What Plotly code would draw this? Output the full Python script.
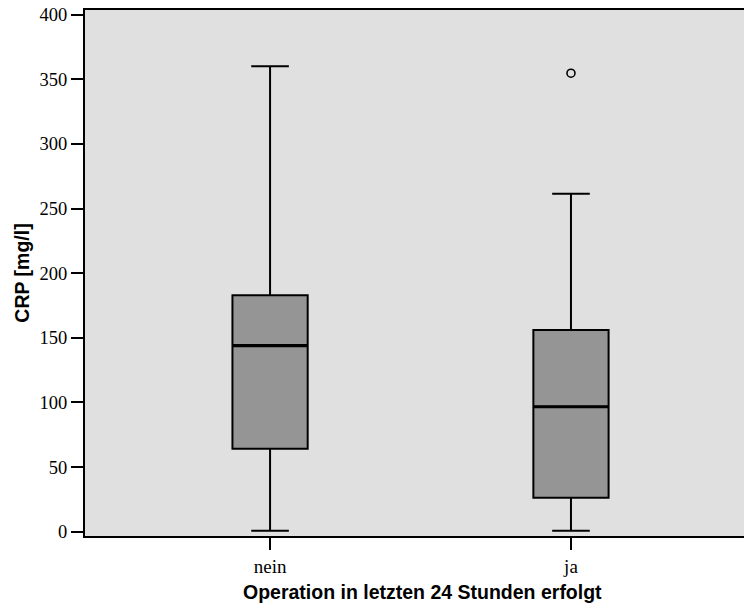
import plotly.graph_objects as go

categories = ["nein", "ja"]
positions = [0, 1]
q1 = [64.2, 26.3]
median = [143.9, 96.7]
q3 = [182.9, 156.1]
lower_fence = [0.8, 0.8]
upper_fence = [360.1, 261.5]
outlier_cat = [1]
outlier_val = [354.7]

yticks = [0, 50, 100, 150, 200, 250, 300, 350, 400]

BOX_W = 0.25
fig = go.Figure()
for i, c in enumerate(categories):
    fig.add_trace(go.Box(
        x=[positions[i]], q1=[q1[i]], median=[median[i]], q3=[q3[i]],
        lowerfence=[lower_fence[i]], upperfence=[upper_fence[i]],
        width=BOX_W, whiskerwidth=0.5,
        fillcolor="#959595", line=dict(color="#000000", width=2),
        boxpoints=False, showlegend=False, name=c, hoverinfo="skip"))
    fig.add_trace(go.Scatter(
        x=[positions[i] - BOX_W / 2, positions[i] + BOX_W / 2],
        y=[median[i], median[i]], mode="lines",
        line=dict(color="#000000", width=3.2), showlegend=False, hoverinfo="skip"))

fig.add_trace(go.Scatter(
    x=[positions[k] for k in outlier_cat], y=outlier_val, mode="markers",
    marker=dict(symbol="circle-open", size=8, color="#000000", line=dict(width=1.6)),
    showlegend=False))

fig.update_layout(
    width=744, height=605,
    margin=dict(l=85, r=0, t=10, b=69),
    paper_bgcolor="white", plot_bgcolor="#e0e0e0",
    font=dict(family="Liberation Serif", size=19, color="#000000"),
    annotations=[dict(
        text="Operation in letzten 24 Stunden erfolgt", xref="paper", yref="paper",
        x=0.512, y=0, yshift=-56, xanchor="center", yanchor="middle", showarrow=False,
        font=dict(family="Liberation Sans", size=19.5, weight="bold", color="#000000"))],
)
fig.update_xaxes(
    range=[-0.615, 1.575], tickmode="array", tickvals=positions, ticktext=categories,
    showgrid=False, zeroline=False, showline=True, linecolor="#000000", linewidth=2,
    mirror=True, ticks="outside", ticklen=12, tickwidth=2, tickcolor="#000000",
    tickfont=dict(family="Liberation Serif", size=19),
)
fig.update_yaxes(
    range=[-3.3, 403.6], tickmode="array", tickvals=yticks,
    showgrid=False, zeroline=False, showline=True, linecolor="#000000", linewidth=2,
    ticks="outside", ticklen=12, tickwidth=2, tickcolor="#000000",
    tickfont=dict(family="Liberation Serif", size=18.5),
    title=dict(text="CRP [mg/l]",
               font=dict(family="Liberation Sans", size=19.5, weight="bold"), standoff=5),
)

fig.write_html("out.html")
